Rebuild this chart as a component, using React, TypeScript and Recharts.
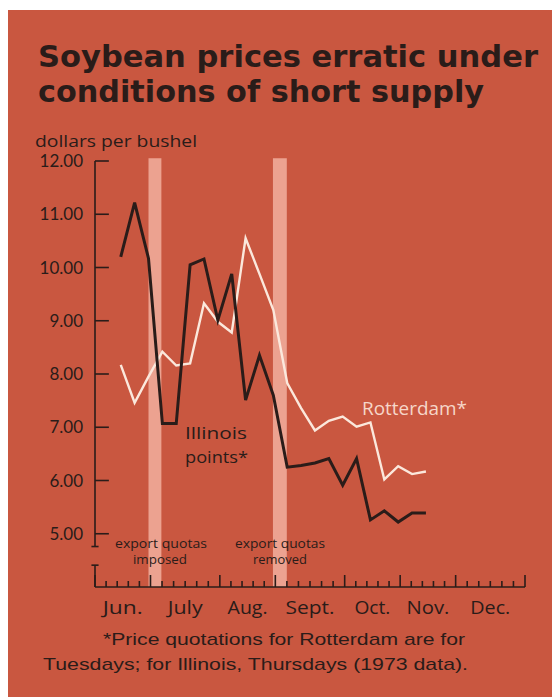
import React from "react"
import { LineChart, Line, XAxis, YAxis, ReferenceArea, ReferenceLine } from "recharts"

// x = days since Sunday, Jun. 3, 1973 (weeks run Sunday to Saturday)
const days = [13, 20, 27, 34, 41, 48, 55, 62, 69, 76, 83, 90, 97, 104, 111, 118, 125, 132, 139, 146, 153, 160, 167]

// dollars per bushel
const illinois = [10.2, 11.22, 10.17, 7.07, 7.07, 10.05, 10.16, 9.01, 9.88, 7.51, 8.35, 7.6, 6.25, 6.28, 6.33, 6.41, 5.91, 6.41, 5.26, 5.43, 5.22, 5.39, 5.39]
const rotterdam = [8.17, 7.46, 7.95, 8.42, 8.16, 8.2, 9.33, 8.98, 8.78, 10.55, 9.88, 9.2, 7.83, 7.36, 6.94, 7.12, 7.2, 7.01, 7.09, 6.02, 6.27, 6.12, 6.17]

const monthLabels = ["Jun.", "July", "Aug.", "Sept.", "Oct.", "Nov.", "Dec."]
const monthStarts = [0, 28, 63, 91, 126, 154, 182, 217]
const monthMarks = [5, 6, 5, 6, 5, 5, 6] // small tick intervals per month
const labelWidths = [40, 35, 40, 49, 36, 43, 40]

const yTicks = [5, 6, 7, 8, 9, 10, 11, 12]

// export quota periods (days)
const quotaImposed = [27, 33.5]
const quotaRemoved = [89.8, 96.8]

const red = "#c95740"
const ink = "#2a1c19"
const cream = "#fbe8dc"
const band = "#eca290"
const sans = "Open Sans"

const rows = days.map((d, i) => ({ day: d, illinois: illinois[i], rotterdam: rotterdam[i] }))

// small ticks, evenly spaced inside each month
const markTicks: number[] = []
monthStarts.slice(0, -1).forEach((start, i) => {
  const step = (monthStarts[i + 1] - start) / monthMarks[i]
  for (let k = 0; k < monthMarks[i]; k++) markTicks.push(start + k * step)
})
markTicks.push(monthStarts[monthStarts.length - 1])

const monthCenters = monthStarts.slice(0, -1).map((s, i) => (s + monthStarts[i + 1]) / 2)

function MarkTick(props: any) {
  const { x, y, payload } = props
  const major = monthStarts.some((m) => Math.abs(m - payload.value) < 0.01)
  return <line x1={x} x2={x} y1={y} y2={y - (major ? 12 : 6)} stroke={ink} strokeWidth={1.6} />
}

function MonthTick(props: any) {
  const { x, y, payload } = props
  const i = monthCenters.findIndex((c) => Math.abs(c - payload.value) < 0.01)
  return (
    <text
      x={x}
      y={y + 25}
      textAnchor="middle"
      fill={ink}
      fontSize={18}
      fontFamily={sans}
      textLength={labelWidths[i]}
      lengthAdjust="spacingAndGlyphs"
    >
      {monthLabels[i]}
    </text>
  )
}

export default function App() {
  const seg = (x1: number, y1: number, x2: number, y2: number, key: string) => (
    <ReferenceLine
      key={key}
      segment={[{ x: x1, y: y1 }, { x: x2, y: y2 }]}
      stroke={ink}
      strokeWidth={1.6}
      ifOverflow="visible"
    />
  )

  return (
    <div style={{ position: "absolute", left: 0, top: 0, width: 552, height: 697, background: "#fff" }}>
      <div style={{ position: "absolute", left: 8, top: 10, right: 0, bottom: 0, background: red }} />
      <div style={{ position: "absolute", left: 0, top: 0 }}>
        <LineChart width={552} height={697} data={rows} margin={{ top: 161, right: 27, bottom: 78, left: 35 }}>
          <XAxis
            dataKey="day"
            type="number"
            domain={[0, 217]}
            ticks={markTicks}
            interval={0}
            tickSize={0}
            tickMargin={0}
            height={2}
            axisLine={{ stroke: ink, strokeWidth: 1.6 }}
            tickLine={false}
            tick={<MarkTick />}
          />
          <XAxis
            xAxisId="months"
            dataKey="day"
            type="number"
            domain={[0, 217]}
            ticks={monthCenters}
            interval={0}
            tickSize={0}
            tickMargin={0}
            height={30}
            axisLine={false}
            tickLine={false}
            tick={<MonthTick />}
          />
          <YAxis
            type="number"
            domain={[4, 12]}
            ticks={yTicks}
            interval={0}
            width={60}
            axisLine={false}
            tickLine={false}
            tickSize={0}
            tickMargin={12}
            tickFormatter={(v: number) => v.toFixed(2)}
            tick={{ fill: ink, fontSize: 17, fontFamily: "Lato" }}
          />
          <ReferenceArea x1={quotaImposed[0]} x2={quotaImposed[1]} y1={4} y2={12.05} fill={band} fillOpacity={1} stroke="none" ifOverflow="visible" />
          <ReferenceArea x1={quotaRemoved[0]} x2={quotaRemoved[1]} y1={4} y2={12.05} fill={band} fillOpacity={1} stroke="none" ifOverflow="visible" />
          {/* broken value axis */}
          {seg(0, 12, 0, 4.76, "ya")}
          {seg(-1.8, 4.76, 1.8, 4.76, "yb")}
          {seg(0, 4.41, 0, 4, "yc")}
          {seg(-1.8, 4.41, 1.8, 4.41, "yd")}
          {yTicks.map((v) => seg(0, v, 7, v, "t" + v))}
          <Line
            dataKey="rotterdam"
            type="linear"
            stroke={cream}
            strokeWidth={2.4}
            dot={false}
            activeDot={false}
            isAnimationActive={false}
          />
          <Line
            dataKey="illinois"
            type="linear"
            stroke={ink}
            strokeWidth={3}
            dot={false}
            activeDot={false}
            isAnimationActive={false}
          />
        </LineChart>
      </div>
      <svg width={552} height={697} style={{ position: "absolute", left: 0, top: 0, pointerEvents: "none" }}>
        <g fill={ink} fontFamily="DejaVu Sans" fontWeight="bold" fontSize={30}>
          <text x={38} y={67} textLength={500} lengthAdjust="spacingAndGlyphs">Soybean prices erratic under</text>
          <text x={38} y={102} textLength={446} lengthAdjust="spacingAndGlyphs">conditions of short supply</text>
        </g>
        <text x={35} y={147} fill={ink} fontFamily={sans} fontSize={16} textLength={162} lengthAdjust="spacingAndGlyphs">dollars per bushel</text>
        <g fill={ink} fontFamily={sans} fontSize={17}>
          <text x={185} y={439} textLength={62} lengthAdjust="spacingAndGlyphs">Illinois</text>
          <text x={185} y={463} textLength={63} lengthAdjust="spacingAndGlyphs">points*</text>
        </g>
        <text x={362} y={415} fill="#f6d6c9" fontFamily={sans} fontSize={18} textLength={105} lengthAdjust="spacingAndGlyphs">Rotterdam*</text>
        <g fill={ink} fontFamily={sans} fontSize={12.5}>
          <text x={115} y={548} textLength={92} lengthAdjust="spacingAndGlyphs">export quotas</text>
          <text x={133} y={564} textLength={54} lengthAdjust="spacingAndGlyphs">imposed</text>
          <text x={235} y={548} textLength={90} lengthAdjust="spacingAndGlyphs">export quotas</text>
          <text x={253} y={564} textLength={54} lengthAdjust="spacingAndGlyphs">removed</text>
        </g>
        <g fill={ink} fontFamily="Liberation Sans" fontSize={17}>
          <text x={103} y={645} textLength={362} lengthAdjust="spacingAndGlyphs">*Price quotations for Rotterdam are for</text>
          <text x={43} y={670} textLength={425} lengthAdjust="spacingAndGlyphs">Tuesdays; for Illinois, Thursdays (1973 data).</text>
        </g>
      </svg>
    </div>
  )
}
